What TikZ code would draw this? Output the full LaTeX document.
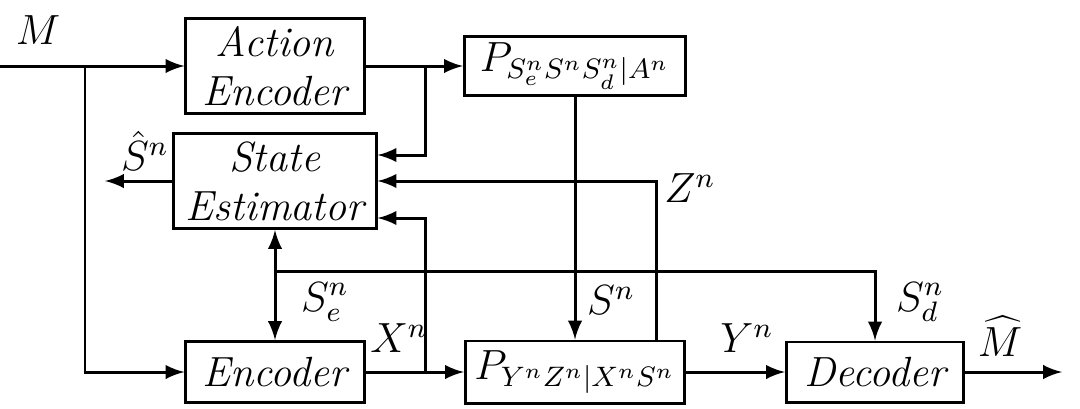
\documentclass[tikz,border=0pt]{standalone}
\usetikzlibrary{arrows}
\begin{document}
\begin{tikzpicture}[x=0.01cm,y=0.01cm,line width=0.85pt,>=latex,
  blk/.style={draw,inner sep=0pt,align=center,font=\fontsize{12}{14}\selectfont\itshape},
  lbl/.style={font=\fontsize{12}{14}\selectfont}]
  \useasboundingbox (0,0) rectangle (1080,408);
  % blocks
  \node[blk,minimum width=1.78cm,minimum height=0.95cm] (ae) at (275,342) {Action\\Encoder};
  \node[blk,minimum width=2.21cm,minimum height=0.59cm] (pa) at (575,342) {$P_{S_e^nS^nS_d^n|A^n}$};
  \node[blk,minimum width=2.02cm,minimum height=0.95cm] (se) at (275,227) {State\\Estimator};
  \node[blk,minimum width=1.78cm,minimum height=0.61cm] (enc) at (275,36) {Encoder};
  \node[blk,minimum width=2.19cm,minimum height=0.62cm] (py) at (575,36) {$P_{Y^nZ^n|X^nS^n}$};
  \node[blk,minimum width=1.77cm,minimum height=0.60cm] (dec) at (875,36) {Decoder};
  % corners and free ends
  \coordinate (in) at (0,342);
  \coordinate (j1) at (85,342);
  \coordinate (j2) at (425,342);
  \coordinate (t1) at (425,253);
  \coordinate (j3) at (425,36);
  \coordinate (t2) at (425,190);
  \coordinate (zc) at (656,227);
  \coordinate (shat) at (105,227);
  \coordinate (sc) at (275,137);
  \coordinate (sd) at (875,137);
  \coordinate (out) at (1062,36);
  % connectors
  \draw[->] (in) -- (ae);
  \draw[->] (j1) |- (enc.west);
  \draw[->] (ae) -- (pa);
  \draw[->] (j2) -- (t1) -- (se.east |- t1);
  \draw[->] (se.west) -- (shat);
  \draw[->] (py.north -| zc) -- (zc) -- (se.east);
  \draw[->] (pa.south) -- (py.north);
  \draw[->] (enc) -- (py);
  \draw[->] (j3) -- (t2) -- (se.east |- t2);
  \draw[->] (py) -- (dec);
  \draw[<->] (se.south) -- (enc.north);
  \draw[->] (sc) -- (sd) -- (dec.north);
  \draw[->] (dec) -- (out);
  % labels
  \node[lbl] (lm) at (38,378) {$M$};
  \node[lbl] (lsh) at (145,257) {$\hat{S}^n$};
  \node[lbl] (lz) at (690,220) {$Z^n$};
  \node[lbl] (lse) at (325,106) {$S_e^n$};
  \node[lbl] (ls) at (611,108) {$S^n$};
  \node[lbl] (lsd) at (920,106) {$S_d^n$};
  \node[lbl] (lx) at (399,70) {$X^n$};
  \node[lbl] (ly) at (747,70) {$Y^n$};
  \node[lbl] (lmh) at (1000,72) {$\widehat{M}$};
\end{tikzpicture}
\end{document}
